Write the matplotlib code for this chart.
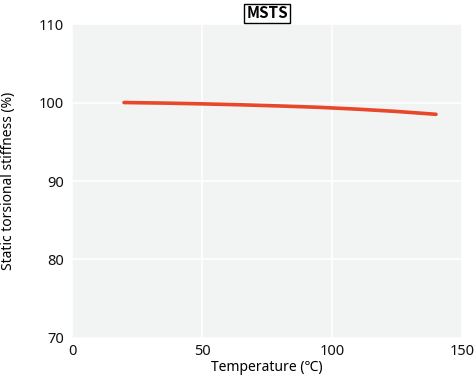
import matplotlib
matplotlib.use("Agg")
import matplotlib.pyplot as plt

plt.rcParams["font.family"] = ["Noto Sans", "Noto Sans CJK JP", "DejaVu Sans"]

temps = [20, 35, 50, 65, 80, 95, 110, 125, 140]
stiffness = [100.0, 99.93, 99.83, 99.71, 99.56, 99.39, 99.15, 98.86, 98.5]
xticks = [0, 50, 100, 150]
yticks = [70, 80, 90, 100, 110]

fig = plt.figure(figsize=(4.75, 3.81), dpi=100)
ax = fig.add_axes([0.1516, 0.1129, 0.821, 0.824])
ax.set_facecolor("#f2f3f3")
ax.plot(temps, stiffness, color="#e8472a", lw=2.6, solid_capstyle="round",
        solid_joinstyle="round")
ax.set_xlim(0, 150)
ax.set_ylim(70, 110)
ax.set_xticks(xticks)
ax.set_yticks(yticks)
ax.grid(True, color="white", lw=1.2)
ax.set_axisbelow(True)
for s in ax.spines.values():
    s.set_visible(False)
ax.tick_params(length=0, labelsize=10.5, colors="#111111")
ax.tick_params(axis="y", pad=6)
ax.tick_params(axis="x", pad=4)
ax.set_xlabel("Temperature (℃)", fontsize=10, labelpad=1)
ax.set_ylabel("Static torsional stiffness (%)", fontsize=10, labelpad=16)
ax.set_title("MSTS", fontsize=11, fontweight="bold", pad=4,
             family=["Noto Sans CJK JP", "DejaVu Sans"],
             bbox=dict(boxstyle="square,pad=0.12", facecolor="white", edgecolor="black", lw=1))
fig.savefig("out.png", dpi=100)
